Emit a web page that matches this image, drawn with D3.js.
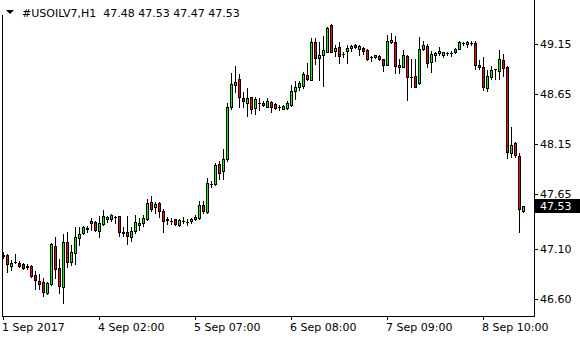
<!DOCTYPE html>
<html lang="en">
<head>
    <meta charset="utf-8">
    <script src="https://cdn.jsdelivr.net/npm/d3@7"></script>
    <style>
        body { margin: 0; background: #fff; }
        svg { display: block; }
        text { font-family: "DejaVu Sans", Verdana, sans-serif; font-size: 11px; fill: #000; }
        .axis .domain { display: none; }
        .axis line { stroke: #000; shape-rendering: crispEdges; }
        .frame { stroke: #000; fill: none; shape-rendering: crispEdges; }
        .candle line, .candle rect { shape-rendering: crispEdges; }
    </style>
</head>
<body>
<div id="chart"></div>
<script type="text/javascript">
    // hourly bars, USOILV7 H1
    var open  = [47.04, 47.04, 46.93, 46.97, 46.96, 46.95, 46.93, 46.93, 46.84, 46.78,
                 46.77, 46.66, 46.75, 47.13, 46.91, 46.72, 47.17, 46.97, 47.06, 47.21,
                 47.26, 47.31, 47.36, 47.37, 47.28, 47.35, 47.40, 47.40, 47.42, 47.43,
                 47.27, 47.27, 47.22, 47.28, 47.34, 47.36, 47.40, 47.57, 47.52, 47.56,
                 47.48, 47.40, 47.38, 47.40, 47.34, 47.38, 47.37, 47.38, 47.40, 47.41,
                 47.54, 47.47, 47.75, 47.75, 47.95, 47.88, 48.00, 48.52, 48.74, 48.80,
                 48.61, 48.56, 48.62, 48.51, 48.56, 48.56, 48.52, 48.57, 48.55, 48.52,
                 48.50, 48.51, 48.54, 48.68, 48.72, 48.73, 48.84, 48.79, 49.17, 49.01,
                 49.04, 49.07, 49.34, 49.08, 49.12, 49.05, 49.08, 49.11, 49.14, 49.10,
                 49.11, 49.09, 49.02, 49.02, 49.03, 49.00, 48.94, 49.17, 49.17, 48.94,
                 48.92, 49.03, 48.82, 48.83, 48.76, 49.10, 49.13, 48.97, 49.04, 49.06,
                 49.04, 49.06, 49.06, 49.07, 49.10, 49.16, 49.15, 49.16, 49.16, 48.94,
                 48.92, 48.71, 48.82, 48.90, 48.88, 48.99, 48.92, 48.06, 48.16, 48.03,
                 47.48];
    var high  = [47.07, 47.05, 46.99, 47.05, 46.98, 46.96, 46.95, 46.94, 46.88, 46.85,
                 46.81, 46.77, 47.16, 47.22, 47.00, 47.25, 47.27, 47.14, 47.32, 47.32,
                 47.33, 47.33, 47.41, 47.38, 47.43, 47.49, 47.43, 47.45, 47.43, 47.43,
                 47.32, 47.43, 47.32, 47.44, 47.41, 47.44, 47.60, 47.63, 47.57, 47.57,
                 47.50, 47.42, 47.41, 47.40, 47.40, 47.42, 47.40, 47.41, 47.44, 47.58,
                 47.58, 47.81, 47.78, 47.96, 47.98, 48.10, 48.56, 48.86, 48.93, 48.85,
                 48.67, 48.71, 48.62, 48.62, 48.61, 48.58, 48.61, 48.58, 48.56, 48.54,
                 48.54, 48.58, 48.74, 48.78, 48.78, 48.87, 48.96, 49.21, 49.21, 49.17,
                 49.23, 49.32, 49.35, 49.14, 49.17, 49.07, 49.14, 49.14, 49.15, 49.14,
                 49.12, 49.10, 49.03, 49.04, 49.04, 49.00, 49.24, 49.26, 49.23, 49.00,
                 49.09, 49.04, 49.00, 49.00, 49.22, 49.18, 49.15, 49.08, 49.07, 49.12,
                 49.07, 49.07, 49.08, 49.11, 49.18, 49.17, 49.18, 49.18, 49.18, 48.99,
                 49.02, 48.89, 48.93, 48.90, 49.09, 49.05, 48.93, 48.32, 48.17, 48.06,
                 47.53];
    var low   = [47.01, 46.87, 46.89, 46.96, 46.92, 46.90, 46.90, 46.82, 46.70, 46.70,
                 46.63, 46.65, 46.74, 46.81, 46.66, 46.56, 46.92, 46.94, 46.95, 47.14,
                 47.25, 47.27, 47.29, 47.28, 47.22, 47.34, 47.37, 47.38, 47.36, 47.23,
                 47.23, 47.15, 47.18, 47.26, 47.29, 47.33, 47.39, 47.48, 47.46, 47.42,
                 47.27, 47.35, 47.35, 47.34, 47.33, 47.36, 47.34, 47.36, 47.39, 47.40,
                 47.46, 47.46, 47.72, 47.74, 47.80, 47.80, 47.98, 48.50, 48.67, 48.52,
                 48.52, 48.43, 48.46, 48.45, 48.49, 48.53, 48.52, 48.47, 48.50, 48.49,
                 48.50, 48.50, 48.53, 48.60, 48.69, 48.71, 48.79, 48.79, 48.95, 48.79,
                 48.73, 49.07, 49.07, 49.03, 48.96, 49.02, 48.96, 49.08, 49.11, 49.04,
                 49.05, 48.99, 48.98, 49.01, 48.99, 48.88, 48.94, 49.16, 48.86, 48.86,
                 48.92, 48.59, 48.72, 48.72, 48.75, 49.09, 48.92, 48.87, 48.98, 49.04,
                 49.02, 49.04, 49.03, 49.06, 49.10, 49.14, 49.12, 49.14, 48.90, 48.90,
                 48.69, 48.68, 48.80, 48.80, 48.80, 48.83, 48.01, 48.02, 48.02, 47.27,
                 47.47];
    var close = [47.03, 46.95, 46.96, 46.97, 46.93, 46.91, 46.92, 46.83, 46.79, 46.75,
                 46.67, 46.76, 47.15, 46.90, 46.73, 47.17, 46.97, 47.07, 47.22, 47.25,
                 47.32, 47.30, 47.38, 47.29, 47.36, 47.43, 47.42, 47.44, 47.42, 47.27,
                 47.26, 47.23, 47.28, 47.37, 47.36, 47.41, 47.56, 47.50, 47.55, 47.48,
                 47.38, 47.39, 47.38, 47.35, 47.39, 47.38, 47.37, 47.40, 47.42, 47.54,
                 47.48, 47.76, 47.75, 47.94, 47.86, 48.00, 48.52, 48.75, 48.77, 48.62,
                 48.58, 48.61, 48.50, 48.60, 48.56, 48.54, 48.58, 48.52, 48.51, 48.52,
                 48.53, 48.56, 48.68, 48.72, 48.76, 48.85, 48.80, 49.17, 49.01, 49.04,
                 49.09, 49.31, 49.07, 49.11, 49.03, 49.05, 49.11, 49.13, 49.12, 49.13,
                 49.08, 49.00, 49.02, 49.04, 49.00, 48.94, 49.18, 49.19, 48.93, 48.92,
                 49.04, 48.82, 48.82, 48.72, 49.10, 49.14, 48.96, 49.05, 49.06, 49.08,
                 49.07, 49.06, 49.06, 49.10, 49.17, 49.16, 49.17, 49.16, 48.94, 48.92,
                 48.72, 48.83, 48.89, 48.90, 49.00, 48.91, 48.07, 48.14, 48.04, 47.50,
                 47.53];

    var timeTickIdx = [0, 24, 48, 72, 96, 120];
    var timeLabels  = ["1 Sep 2017", "4 Sep 02:00", "5 Sep 07:00", "6 Sep 08:00", "7 Sep 09:00", "8 Sep 10:00"];
    var priceTicks  = [46.60, 47.10, 47.65, 48.15, 48.65, 49.15];
    var symbol = "#USOILV7,H1";

    var width = 580, height = 340;
    var plot = {left: 2, right: 534, top: 0, bottom: 316};
    var bullColor = "#00ff00", bearColor = "#ff0000";

    var svg = d3.select("#chart").append("svg")
        .attr("width", width)
        .attr("height", height);

    var x = d3.scaleLinear().domain([0, 130]).range([3, 523]);
    var y = d3.scaleLinear().domain([46.43, 49.57]).range([plot.bottom, 2]);

    var bars = d3.range(open.length).map(function (i) {
        return {i: i, o: open[i], h: high[i], l: low[i], c: close[i]};
    });

    // frame (left edge starts under the title)
    svg.append("path")
        .attr("class", "frame")
        .attr("d", "M" + (plot.left + 0.5) + ",15" +
            "V" + (plot.bottom + 0.5) + "H" + (plot.right + 0.5) + "V" + plot.top);

    var candles = svg.append("g").attr("class", "candle")
        .selectAll("g")
        .data(bars)
        .enter().append("g");

    candles.append("line")
        .attr("x1", function (d) { return Math.round(x(d.i)) + 0.5; })
        .attr("x2", function (d) { return Math.round(x(d.i)) + 0.5; })
        .attr("y1", function (d) { return Math.round(y(d.h)); })
        .attr("y2", function (d) { return Math.round(y(d.l)) + 1; })
        .attr("stroke", "#000");

    candles.each(function (d) {
        var g = d3.select(this);
        var cx = Math.round(x(d.i));
        var top = Math.round(y(Math.max(d.o, d.c)));
        var bot = Math.round(y(Math.min(d.o, d.c)));
        if (bot - top < 1) {
            g.append("line")
                .attr("x1", cx - 1).attr("x2", cx + 2)
                .attr("y1", top + 0.5).attr("y2", top + 0.5)
                .attr("stroke", "#000");
        } else {
            g.append("rect")
                .attr("x", cx - 0.5)
                .attr("y", top + 0.5)
                .attr("width", 2)
                .attr("height", bot - top)
                .attr("fill", d.c >= d.o ? bullColor : bearColor)
                .attr("stroke", "#000");
        }
    });

    // price axis
    var yAxis = svg.append("g")
        .attr("class", "axis")
        .attr("transform", "translate(" + plot.right + ",0)")
        .call(d3.axisRight(y).tickValues(priceTicks).tickSize(4).tickSizeOuter(0)
            .tickFormat(d3.format(".2f")));
    yAxis.selectAll("text").attr("x", 6).attr("dy", "0.35em");

    // time axis
    var xAxis = svg.append("g")
        .attr("class", "axis")
        .attr("transform", "translate(0," + plot.bottom + ")")
        .call(d3.axisBottom(x).tickValues(timeTickIdx).tickSize(4).tickSizeOuter(0)
            .tickFormat(function (d, i) { return timeLabels[i]; }));
    xAxis.selectAll("text")
        .attr("text-anchor", "start")
        .attr("x", -1.5)
        .attr("y", 7)
        .attr("dy", "0.71em");

    // last price marker
    var last = close[close.length - 1];
    var ly = Math.round(y(last));
    svg.append("rect")
        .attr("x", plot.right + 1)
        .attr("y", ly - 7)
        .attr("width", width - plot.right - 1)
        .attr("height", 14)
        .attr("fill", "#000");
    svg.append("text")
        .attr("x", plot.right + 6)
        .attr("y", ly)
        .attr("dy", "0.35em")
        .style("fill", "#fff")
        .text(d3.format(".2f")(last));

    // title
    svg.append("path")
        .attr("d", "M6,10 L14,10 L10,14 Z")
        .attr("fill", "#000");
    svg.append("text")
        .attr("x", 22)
        .attr("y", 17)
        .attr("xml:space", "preserve")
        .text(symbol + "  " + [open, high, low, close].map(function (a) {
            return d3.format(".2f")(a[a.length - 1]);
        }).join(" "));
</script>
</body>
</html>
